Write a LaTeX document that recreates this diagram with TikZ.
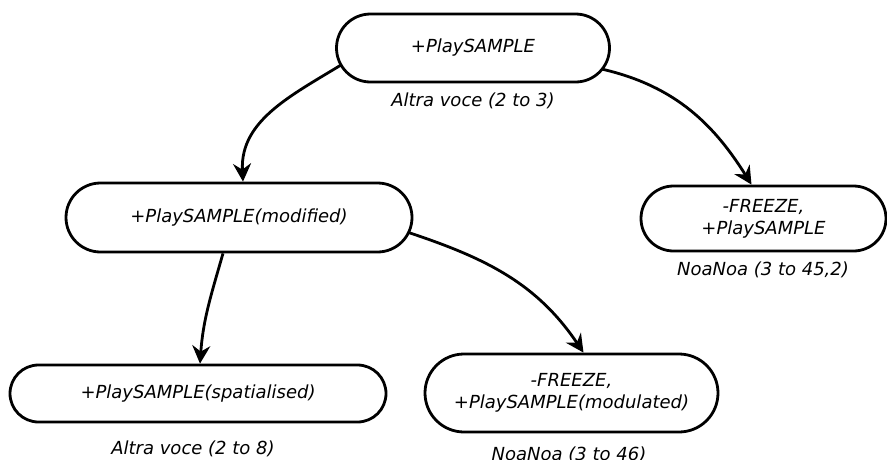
\documentclass[tikz,border=0pt]{standalone}
\usepackage{fontspec}
\setmainfont{DejaVu Sans}
\usetikzlibrary{arrows.meta,backgrounds,shapes.misc}
\tikzset{
  state/.style={draw, line width=2.8pt, fill=white, rounded rectangle,
    rounded rectangle arc length=180,
    align=center, inner sep=0pt, font=\fontsize{18}{22}\selectfont\itshape},
  caption/.style={anchor=base, inner sep=0pt, font=\fontsize{18}{22}\selectfont\itshape},
  flow/.style={line width=2.8pt, -{Stealth[length=18pt,width=18pt,inset=6pt]}}
}
\begin{document}
\begin{tikzpicture}[x=1pt,y=-1pt]
\useasboundingbox (0,0) rectangle (887,459);

\node[state, minimum width=273pt, minimum height=68pt] (top) at (473,48) {+PlaySAMPLE};
\node[caption] (topcap) at (473,106) {Altra voce (2 to 3)};

\node[state, minimum width=245pt, minimum height=65pt] (freeze) at (763.5,218.5) {-FREEZE,\\+PlaySAMPLE};
\node[caption] (freezecap) at (763,275) {NoaNoa (3 to 45,2)};

\node[state, minimum width=346pt, minimum height=69pt] (mod) at (239,217.5) {+PlaySAMPLE(modified)};

\node[state, minimum width=376pt, minimum height=57pt] (spat) at (198,393.5) {+PlaySAMPLE(spatialised)};
\node[caption] (spatcap) at (193,454) {Altra voce (2 to 8)};

\node[state, minimum width=293pt, minimum height=78pt] (modul) at (571.5,393) {-FREEZE,\\+PlaySAMPLE(modulated)};
\node[caption] (modulcap) at (569,460) {NoaNoa (3 to 46)};

\begin{pgfonlayer}{background}
  \draw[flow] ([xshift=14pt,yshift=-12pt]top.west) to[out=212,in=93] ([xshift=4pt]mod.north);
  \draw[flow] ([xshift=-14pt,yshift=-20pt]top.east) to[out=-12,in=122] ([xshift=-12pt]freeze.north);
  \draw[flow] ([xshift=-16pt]mod.south) to[out=-106,in=86] ([xshift=2pt]spat.north);
  \draw[flow] ([xshift=-14pt,yshift=-12pt]mod.east) to[out=-18,in=124] ([xshift=12pt]modul.north);
\end{pgfonlayer}
\end{tikzpicture}
\end{document}
